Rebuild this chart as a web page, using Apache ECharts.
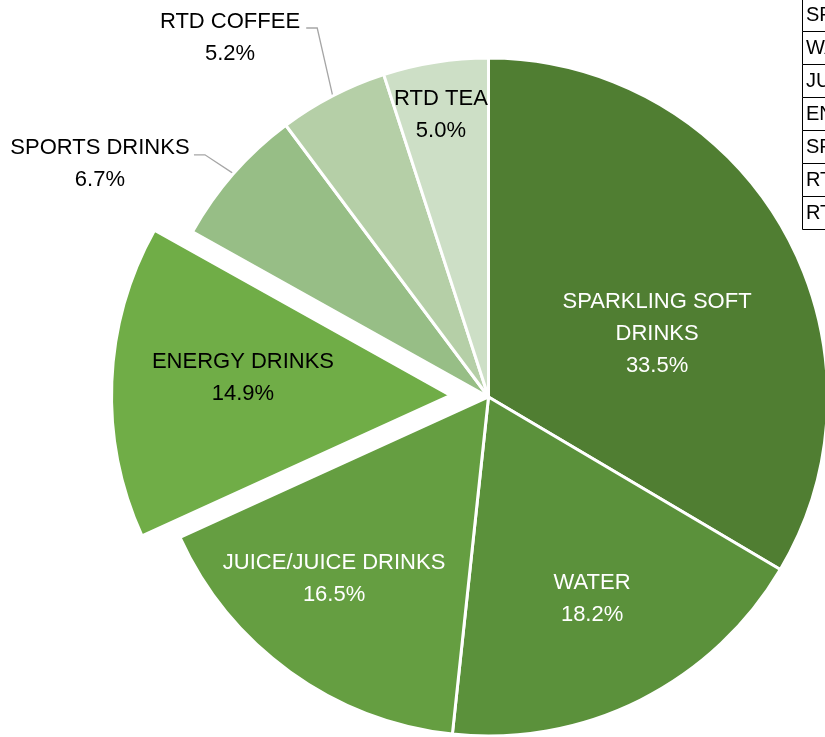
<!DOCTYPE html>
<html><head><meta charset="utf-8">
<script src="https://cdn.jsdelivr.net/npm/echarts@6/dist/echarts.min.js"></script>
<style>html,body{margin:0;padding:0;background:#fff;overflow:hidden}#c{width:825px;height:737px}</style>
</head><body><div id="c"></div>
<script>
// ---- data ----
const categories = ['SPARKLING SOFT DRINKS','WATER','JUICE/JUICE DRINKS','ENERGY DRINKS','SPORTS DRINKS','RTD COFFEE','RTD TEA'];
const shares = [33.5, 18.2, 16.5, 14.9, 6.7, 5.2, 5.0];
const labelNames = ['SPARKLING SOFT\nDRINKS','WATER','JUICE/JUICE DRINKS','ENERGY DRINKS','SPORTS DRINKS','RTD COFFEE','RTD TEA'];
const tableRows = ['SPARKLING SOFT DRINKS','WATER','JUICE/JUICE DRINKS','ENERGY DRINKS','SPORTS DRINKS','RTD COFFEE','RTD TEA'];
const explodedIndex = 3;

// ---- styling / placement ----
const colors = ['#507E32','#5B913B','#659E41','#70AD47','#97BE86','#B5CFA7','#CDDFC6'];
const textColors = ['#fff','#fff','#fff','#000','#000','#000','#000'];
const outside = [false,false,false,false,true,true,false];
// label block centre in polar coords relative to the slice centre: [radius fraction, angle deg clockwise from 12]
const labelPolar = [[0.533,68.9],[0.664,152.6],[0.70,220.6],[0.615,275.4],[1.34,301.2],[1.31,324.4],[0.85,350.5]];
// elbow of leader line: [radius fraction, angle]
const elbowPolar = {4:[1.10,310.5], 5:[1.20,335.1]};
const tailLen = 11;
const labelNudgeY = 2;

const CX = 488.5, CY = 397, R = 339, EXPLODE = 38;
const FONT = "'Liberation Sans',Arial,sans-serif";

const total = shares.reduce((a,b)=>a+b,0);
function midAngle(i){ let s=0; for(let k=0;k<i;k++) s+=shares[k]; return (s+shares[i]/2)/total*360; }
function polar(cx,cy,r,deg){ const a=deg*Math.PI/180; return [cx+r*Math.sin(a), cy-r*Math.cos(a)]; }
const EC = polar(CX,CY,EXPLODE,midAngle(explodedIndex));

const chart = echarts.init(document.getElementById('c'), null, {renderer:'canvas'});

const graphics = [];
const rowH = 33, tableTop = -2, tableX = 802;
tableRows.forEach((t,i)=>{
  graphics.push({type:'rect', shape:{x:tableX+0.5, y:tableTop+i*rowH+0.5, width:60, height:rowH}, style:{fill:'#fff', stroke:'#000', lineWidth:1}, silent:true});
  graphics.push({type:'text', x:tableX+4, y:tableTop+i*rowH+rowH/2+1, style:{text:t, font:"20px 'Liberation Sans',Arial,sans-serif", fill:'#000', verticalAlign:'middle', align:'left'}, silent:true});
});

function makeSeries(centre, visible){
  return {
    type:'pie',
    center:centre,
    radius:[0,R],
    startAngle:90,
    clockwise:true,
    silent:true,
    selectedMode:false,
    avoidLabelOverlap:false,
    emphasis:{disabled:true},
    itemStyle:{borderColor:'#fff', borderWidth:3},
    label:{
      show:true,
      position:'inside',
      fontFamily:FONT,
      fontSize:22,
      lineHeight:32,
      align:'center',
      formatter:p=>labelNames[p.dataIndex]+'\n'+shares[p.dataIndex].toFixed(1)+'%'
    },
    labelLine:{show:false},
    labelLayout:function(p){
      const i=p.dataIndex;
      const [sx,sy]=centre;
      const [lx,ly]=polar(sx,sy,labelPolar[i][0]*R,labelPolar[i][1]);
      const out={x:lx,y:ly+labelNudgeY,align:'center',verticalAlign:'middle'};
      if(outside[i]){
        const a=polar(sx,sy,R,midAngle(i));
        const e=polar(sx,sy,elbowPolar[i][0]*R,elbowPolar[i][1]);
        out.labelLinePoints=[a,e,[e[0]-tailLen,e[1]]];
      }
      return out;
    },
    data: categories.map((c,i)=>{
      const v = visible(i);
      return {
        name:c, value:shares[i],
        itemStyle: v ? {color:colors[i]} : {color:'rgba(0,0,0,0)', borderWidth:0},
        label: v ? {color:textColors[i], position: outside[i]?'outside':'inside'} : {show:false},
        labelLine: {show: v && outside[i], length:20, length2:10, lineStyle:{color:'#A6A6A6', width:1.3}}
      };
    })
  };
}

chart.setOption({
  animation:false,
  backgroundColor:'#fff',
  graphic: graphics,
  series:[
    makeSeries([CX,CY], i=>i!==explodedIndex),
    makeSeries(EC, i=>i===explodedIndex)
  ]
});
</script>
</body></html>
